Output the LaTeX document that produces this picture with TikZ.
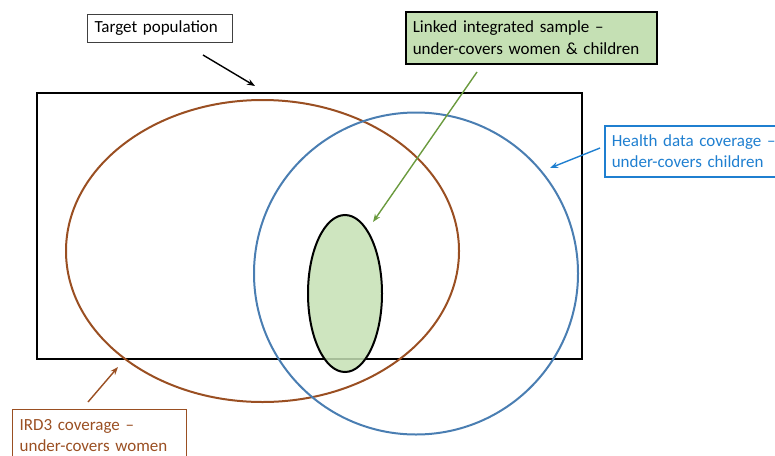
\documentclass[tikz,border=0pt]{standalone}
\usepackage{fontspec}
\setmainfont{Carlito}
\usetikzlibrary{arrows.meta,shapes.geometric}
\definecolor{brn}{HTML}{9A4F22}
\definecolor{blu}{HTML}{4A7EB2}
\definecolor{txtblu}{HTML}{1F7FD0}
\definecolor{grnfill}{HTML}{C5E0B4}
\definecolor{grnarr}{HTML}{6A9A3E}
\begin{document}
\begin{tikzpicture}[x=1pt,y=-1pt,
  lbl/.style={draw,line width=1.6pt,align=left,anchor=north west,inner xsep=7pt,inner ysep=2.5pt,font=\fontsize{17}{21.5}\selectfont},
  arr/.style={line width=1.4pt,-{Stealth[length=8pt,width=6pt]}}]
\useasboundingbox (0,0) rectangle (775,455);
\begin{scope}
\clip (0,0) rectangle (775,455);
% rectangle
\draw[line width=2.6pt] (37,93) rectangle (582,359);
% brown ellipse
\draw[brn,line width=2pt] (262.5,251) ellipse [x radius=196.5,y radius=151];
% blue circle
\draw[blu,line width=2pt] (416,273.5) ellipse [x radius=162,y radius=161];
% green ellipse
\node[draw=black,line width=2pt,fill=grnfill,fill opacity=0.85,ellipse,minimum width=74pt,minimum height=157pt,inner sep=0pt] (samp) at (345,293.5) {};
% labels
\node[lbl,draw=black!75,line width=1pt,text width=131pt,minimum height=28pt] (tp) at (87,14) {Target population};
\node[lbl,draw=black,fill=grnfill,text width=237pt,minimum height=52pt] (lk) at (405,11) {Linked integrated sample –\\under-covers women \& children};
\node[lbl,draw=txtblu,text=txtblu,text width=200pt,minimum height=51pt] (hd) at (604,125) {Health data coverage –\\under-covers children};
\node[lbl,draw=brn,text=brn,line width=1.3pt,text width=160pt,minimum height=52pt] (ird) at (12,409) {IRD3 coverage –\\under-covers women};
% arrow endpoints
\coordinate (tpA) at (203,55);
\coordinate (tpB) at (255,86);
\coordinate (lkA) at (477,72);
\coordinate (lkB) at (373,222);
\coordinate (hdA) at (600,148);
\coordinate (hdB) at (550,168);
\coordinate (irA) at (88,402);
\coordinate (irB) at (118,367);
\draw[arr,black] (tpA) -- (tpB);
\draw[arr,grnarr] (lkA) -- (lkB);
\draw[arr,txtblu] (hdA) -- (hdB);
\draw[arr,brn] (irA) -- (irB);
\end{scope}
\end{tikzpicture}
\end{document}
